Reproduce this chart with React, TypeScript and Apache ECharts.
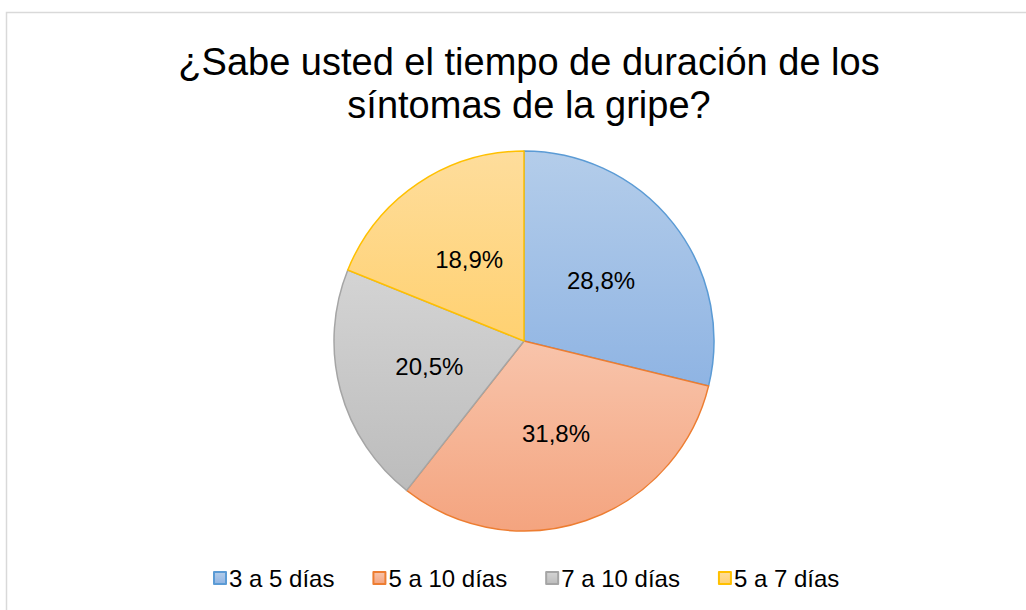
import React, { useEffect, useRef } from "react";
import * as echarts from "echarts";

const titleLines = ["¿Sabe usted el tiempo de duración de los", "síntomas de la gripe?"];
const categories = ["3 a 5 días", "5 a 10 días", "7 a 10 días", "5 a 7 días"];
const values = [28.8, 31.8, 20.5, 18.9];
const borderColors = ["#5b9bd5", "#ed7d31", "#a5a5a5", "#ffc000"];
const gradTop = ["#b4cdea", "#f8c4ab", "#d4d4d4", "#fedd9c"];
const gradBottom = ["#8fb4e3", "#f4a47f", "#bcbcbc", "#ffd171"];

export default function App() {
  const ref = useRef<HTMLDivElement>(null);
  useEffect(() => {
    if (!ref.current) return;
    const chart = echarts.init(ref.current, undefined, { renderer: "svg" });
    const data = categories.map((name, i) => ({
      name,
      value: values[i],
      itemStyle: {
        color: {
          type: "linear",
          x: 0,
          y: 0,
          x2: 0,
          y2: 1,
          colorStops: [
            { offset: 0, color: gradTop[i] },
            { offset: 1, color: gradBottom[i] },
          ],
        },
        borderColor: borderColors[i],
        borderWidth: 1.5,
      },
    }));
    chart.setOption({
      animation: false,
      backgroundColor: "#ffffff",
      graphic: [
        {
          type: "rect",
          shape: { x: 6.5, y: 12.5, width: 1040, height: 620 },
          style: { fill: "none", stroke: "#d9d9d9", lineWidth: 1.5 },
          silent: true,
        },
      ],
      title: {
        text: titleLines.join("\n"),
        left: 524,
        top: 35,
        textAlign: "center",
        textStyle: {
          fontFamily: "Liberation Sans, Arial, sans-serif",
          fontSize: 38,
          fontWeight: "normal",
          color: "#000000",
          lineHeight: 43,
        },
      },
      legend: {
        data: categories,
        left: 208,
        top: 561,
        itemWidth: 12,
        itemHeight: 12,
        itemGap: 38,
        icon: "rect",
        textStyle: {
          fontFamily: "Liberation Sans, Arial, sans-serif",
          fontSize: 24,
          color: "#000000",
          padding: [0, 0, 0, -2],
        },
      },
      series: [
        {
          type: "pie",
          center: [524, 341],
          radius: 190,
          startAngle: 90,
          clockwise: true,
          data,
          label: {
            show: true,
            position: "inside",
            formatter: (p: any) => p.value.toFixed(1).replace(".", ",") + "%",
            fontFamily: "Liberation Sans, Arial, sans-serif",
            fontSize: 24,
            color: "#000000",
          },
          labelLine: { show: false },
          emphasis: { disabled: true },
        },
      ],
    });
    return () => chart.dispose();
  }, []);
  return (
    <div
      ref={ref}
      style={{ position: "fixed", left: 0, top: 0, width: 1026, height: 610 }}
    />
  );
}
